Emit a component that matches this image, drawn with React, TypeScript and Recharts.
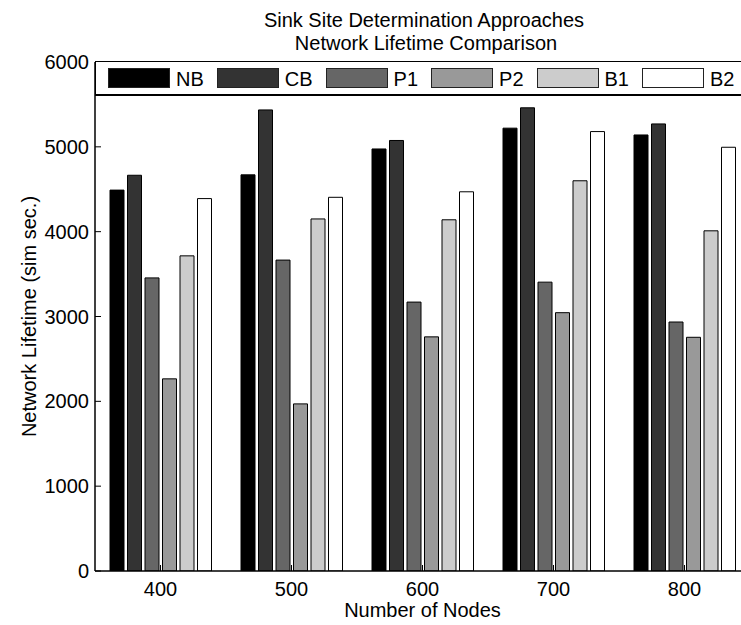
import React from 'react';
import { BarChart, Bar, XAxis, YAxis, Legend } from 'recharts';

// Network lifetime (simulated seconds) per sink-placement approach
const NODE_COUNTS = ['400', '500', '600', '700', '800'];
const NB = [4490, 4670, 4975, 5220, 5140];
const CB = [4665, 5435, 5075, 5460, 5270];
const P1 = [3455, 3665, 3170, 3405, 2935];
const P2 = [2265, 1970, 2760, 3045, 2755];
const B1 = [3715, 4150, 4140, 4600, 4010];
const B2 = [4390, 4405, 4470, 5180, 4995];
const Y_TICKS = [0, 1000, 2000, 3000, 4000, 5000, 6000];

const SERIES = [
  { key: 'NB', values: NB, fill: '#000000' },
  { key: 'CB', values: CB, fill: '#333333' },
  { key: 'P1', values: P1, fill: '#666666' },
  { key: 'P2', values: P2, fill: '#999999' },
  { key: 'B1', values: B1, fill: '#cccccc' },
  { key: 'B2', values: B2, fill: '#ffffff' },
];

const data = NODE_COUNTS.map((nodes, i) => {
  const row: Record<string, string | number> = { nodes };
  SERIES.forEach((s) => {
    row[s.key] = s.values[i];
  });
  return row;
});

const FONT = '"Liberation Sans", Arial, Helvetica, sans-serif';

const LegendBox = () => (
  <div
    style={{
      boxSizing: 'border-box',
      width: 660,
      height: 35,
      borderTop: '1.5px solid #000',
      borderBottom: '2px solid #000',
      borderLeft: '1.5px solid #000',
      background: '#fff',
      display: 'flex',
      alignItems: 'center',
      paddingLeft: 12,
      fontFamily: FONT,
      fontSize: 20,
      color: '#000',
    }}
  >
    {SERIES.map((s) => (
      <div key={s.key} style={{ display: 'flex', alignItems: 'center', marginRight: 13 }}>
        <span
          style={{
            display: 'inline-block',
            boxSizing: 'border-box',
            width: 62,
            height: 20,
            background: s.fill,
            border: '1px solid #222',
          }}
        />
        <span style={{ marginLeft: 6, lineHeight: '20px', position: 'relative', top: 1 }}>{s.key}</span>
      </div>
    ))}
  </div>
);

const YTitle = (props: any) => {
  const vb = props.viewBox || { x: 35, y: 62, width: 60, height: 509 };
  const x = vb.x + 1;
  const y = vb.y + vb.height / 2;
  return (
    <text
      x={x}
      y={y}
      transform={`rotate(-90, ${x}, ${y})`}
      textAnchor="middle"
      fontFamily={FONT}
      fontSize={20}
      fill="#000"
    >
      Network Lifetime (sim sec.)
    </text>
  );
};

const XTitle = (props: any) => {
  const vb = props.viewBox || { x: 95, y: 571, width: 655, height: 40 };
  return (
    <text
      x={vb.x + vb.width / 2}
      y={vb.y + 46}
      textAnchor="middle"
      fontFamily={FONT}
      fontSize={20}
      fill="#000"
    >
      Number of Nodes
    </text>
  );
};

export default function App() {
  return (
    <div
      style={{
        position: 'absolute',
        left: 0,
        top: 0,
        width: 741,
        height: 625,
        overflow: 'hidden',
        background: '#fff',
      }}
    >
      <svg
        width={741}
        height={60}
        style={{ position: 'absolute', left: 0, top: 0, pointerEvents: 'none' }}
      >
        <text x={424} y={27} textAnchor="middle" fontFamily={FONT} fontSize={20} fill="#000">
          Sink Site Determination Approaches
        </text>
        <text x={426} y={50} textAnchor="middle" fontFamily={FONT} fontSize={20} fill="#000">
          Network Lifetime Comparison
        </text>
      </svg>
      <div style={{ position: 'absolute', left: 0, top: 0 }}>
        <BarChart
          width={760}
          height={625}
          data={data}
          margin={{ top: 62, right: 10, bottom: 14, left: 35 }}
          barSize={14}
          barGap={3.5}
        >
          <XAxis
            dataKey="nodes"
            height={40}
            axisLine={{ stroke: '#000', strokeWidth: 1.5 }}
            tickLine={{ stroke: '#000' }}
            tickSize={-6}
            tickMargin={17}
            tick={{ fill: '#000', fontFamily: FONT, fontSize: 20 }}
            label={{ content: XTitle }}
          />
          <YAxis
            width={60}
            domain={[0, 6000]}
            ticks={Y_TICKS}
            allowDataOverflow
            axisLine={{ stroke: '#000', strokeWidth: 1.5 }}
            tickLine={{ stroke: '#000' }}
            tickSize={-6}
            tickMargin={12}
            tick={{ fill: '#000', fontFamily: FONT, fontSize: 20 }}
            label={{ content: YTitle }}
          />
          <Legend
            layout="horizontal"
            align="center"
            verticalAlign="middle"
            wrapperStyle={{ position: 'absolute', left: 95, top: 61, width: 660, height: 35, margin: 0, padding: 0 }}
            content={() => <LegendBox />}
          />
          {SERIES.map((s) => (
            <Bar
              key={s.key}
              dataKey={s.key}
              name={s.key}
              fill={s.fill}
              stroke="#000"
              strokeWidth={1}
              isAnimationActive={false}
            />
          ))}
        </BarChart>
      </div>
    </div>
  );
}
